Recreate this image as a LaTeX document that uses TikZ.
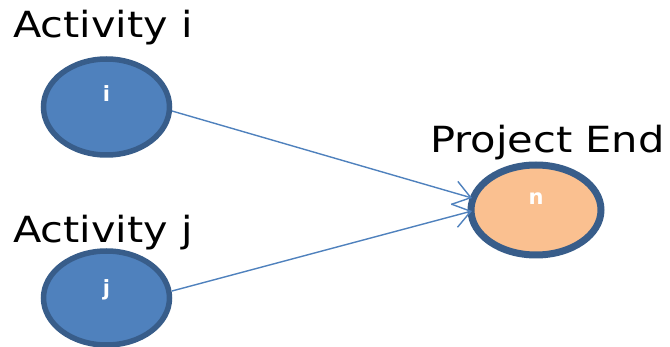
\documentclass[tikz,border=0pt]{standalone}
\usepackage{fontspec}
\setmainfont{DejaVu Sans}
\usetikzlibrary{arrows.meta}
\definecolor{nodeblue}{HTML}{4F81BD}
\definecolor{rimblue}{HTML}{385D8A}
\definecolor{endfill}{HTML}{FAC090}
\tikzset{
  actring/.style={draw=rimblue, line width=5.5pt, fill=nodeblue},
  endring/.style={draw=rimblue, line width=7pt, fill=endfill},
  caption/.style={anchor=base west, inner sep=0pt, font=\fontsize{36}{42}\selectfont},
  inner/.style={text=white, font=\fontsize{21}{24}\selectfont\bfseries},
  link/.style={draw=nodeblue, line width=1.4pt, -{Straight Barb[length=17pt,width=24pt,line width=1.4pt]}}
}
\begin{document}
\begin{tikzpicture}[x=1pt,y=-1pt]
  \useasboundingbox (0,0) rectangle (670,347);
  % activity i
  \path[actring] (106.5,107) ellipse [x radius=63, y radius=48];
  \node[inner] (li) at (106.5,94) {i};
  \coordinate (ci) at (172,111);
  % activity j
  \path[actring] (106.5,298) ellipse [x radius=63, y radius=47];
  \node[inner] (lj) at (106.5,290) {j};
  \coordinate (cj) at (172,291);
  % project end
  \path[endring] (536,210) ellipse [x radius=65, y radius=45];
  \node[inner] (ln) at (536,199) {n};
  \coordinate (cn1) at (472,198);
  \coordinate (cn2) at (472,211);
  % captions
  \node[caption] (ti) at (13,37.5) {\scalebox{1.15}[1]{Activity i}};
  \node[caption] (tj) at (13,242.5) {\scalebox{1.15}[1]{Activity j}};
  \node[caption] (tn) at (430,152.5) {\scalebox{1.155}[1]{Project End}};
  % connectors
  \draw[link] (ci) -- (cn1);
  \draw[link] (cj) -- (cn2);
\end{tikzpicture}
\end{document}
